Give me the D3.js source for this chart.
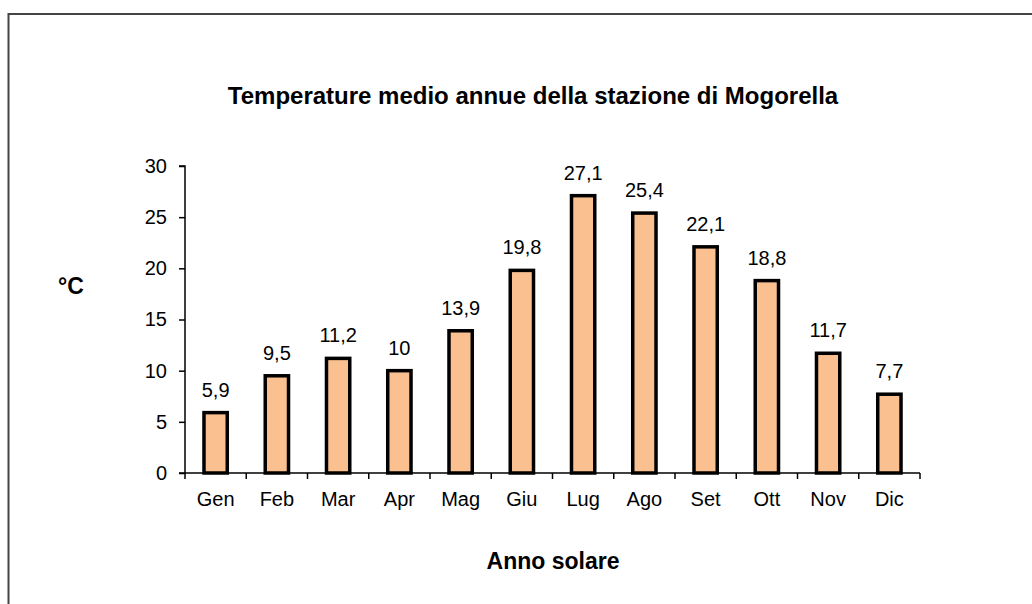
<!DOCTYPE html>
<html>
<head>
<meta charset="utf-8">
<script src="https://cdn.jsdelivr.net/npm/d3@7"></script>
<style>
body { margin: 0; background: #fff; }
text { font-family: "Liberation Sans", Arial, sans-serif; fill: #000; }
.tick-label { font-size: 20px; }
.bold { font-weight: bold; font-size: 23px; }
</style>
</head>
<body>
<div id="chart"></div>
<script>
var months = ["Gen", "Feb", "Mar", "Apr", "Mag", "Giu", "Lug", "Ago", "Set", "Ott", "Nov", "Dic"];
var temps = [5.9, 9.5, 11.2, 10, 13.9, 19.8, 27.1, 25.4, 22.1, 18.8, 11.7, 7.7];
var y_ticks = [0, 5, 10, 15, 20, 25, 30];

var width = 1032, height = 604;
var left = 185, right = 920, top_y = 166, bottom_y = 473;

var svg = d3.select("#chart").append("svg")
		.attr("width", width)
		.attr("height", height);

// outer frame
svg.append("rect")
		.attr("x", 8.5)
		.attr("y", 14)
		.attr("width", 1040)
		.attr("height", 620)
		.attr("fill", "none")
		.attr("stroke", "#444")
		.attr("stroke-width", 2);

var x = d3.scaleBand()
		.domain(months)
		.range([left, right])
		.paddingInner(0.62)
		.paddingOuter(0.31);

var y = d3.scaleLinear()
		.domain([0, 30])
		.range([bottom_y, top_y]);

// bars
svg.selectAll(".bar")
		.data(temps)
	.enter().append("rect")
		.attr("class", "bar")
		.attr("x", function(d, i){ return x(months[i]); })
		.attr("y", function(d){ return y(d); })
		.attr("width", x.bandwidth())
		.attr("height", function(d){ return y(0) - y(d); })
		.attr("fill", "#FAC090")
		.attr("stroke", "#000")
		.attr("stroke-width", 3.5);

// value labels
svg.selectAll(".val")
		.data(temps)
	.enter().append("text")
		.attr("class", "tick-label")
		.attr("x", function(d, i){ return x(months[i]) + x.bandwidth() / 2; })
		.attr("y", function(d){ return y(d) - 16; })
		.attr("text-anchor", "middle")
		.text(function(d){ return String(d).replace(".", ","); });

// y axis
var yAxis = svg.append("g")
		.attr("transform", "translate(" + left + ",0)")
		.call(d3.axisLeft(y).tickValues(y_ticks).tickSize(6).tickPadding(12));

yAxis.select(".domain").attr("stroke-width", 1.5).attr("d", "M-6," + top_y + "H0V" + bottom_y + "H-6");
yAxis.selectAll(".tick line").attr("stroke-width", 1.5);
yAxis.selectAll(".tick text")
		.attr("class", "tick-label")
		.attr("font-size", null)
		.attr("font-family", null);
yAxis.attr("font-size", null).attr("font-family", null);

// x axis: ticks at band boundaries
var xAxis = svg.append("g")
		.attr("transform", "translate(0," + bottom_y + ")");
xAxis.append("line")
		.attr("x1", left)
		.attr("x2", right)
		.attr("stroke", "#000")
		.attr("stroke-width", 1.5);
var bounds = d3.range(months.length + 1).map(function(i){ return left + (right - left) * i / months.length; });
xAxis.selectAll(".xt")
		.data(bounds)
	.enter().append("line")
		.attr("x1", function(d){ return d; })
		.attr("x2", function(d){ return d; })
		.attr("y1", 0)
		.attr("y2", 6)
		.attr("stroke", "#000")
		.attr("stroke-width", 1.5);
xAxis.selectAll(".xl")
		.data(months)
	.enter().append("text")
		.attr("class", "tick-label")
		.attr("x", function(d){ return x(d) + x.bandwidth() / 2; })
		.attr("y", 33)
		.attr("text-anchor", "middle")
		.text(function(d){ return d; });

// titles
svg.append("text")
		.attr("class", "bold")
		.attr("x", 533)
		.attr("y", 104)
		.attr("text-anchor", "middle")
		.style("font-size", "24px")
		.text("Temperature medio annue della stazione di Mogorella");

svg.append("text")
		.attr("class", "bold")
		.attr("x", 71)
		.attr("y", 294)
		.attr("text-anchor", "middle")
		.text("°C");

svg.append("text")
		.attr("class", "bold")
		.attr("x", 553)
		.attr("y", 569)
		.attr("text-anchor", "middle")
		.text("Anno solare");
</script>
</body>
</html>
